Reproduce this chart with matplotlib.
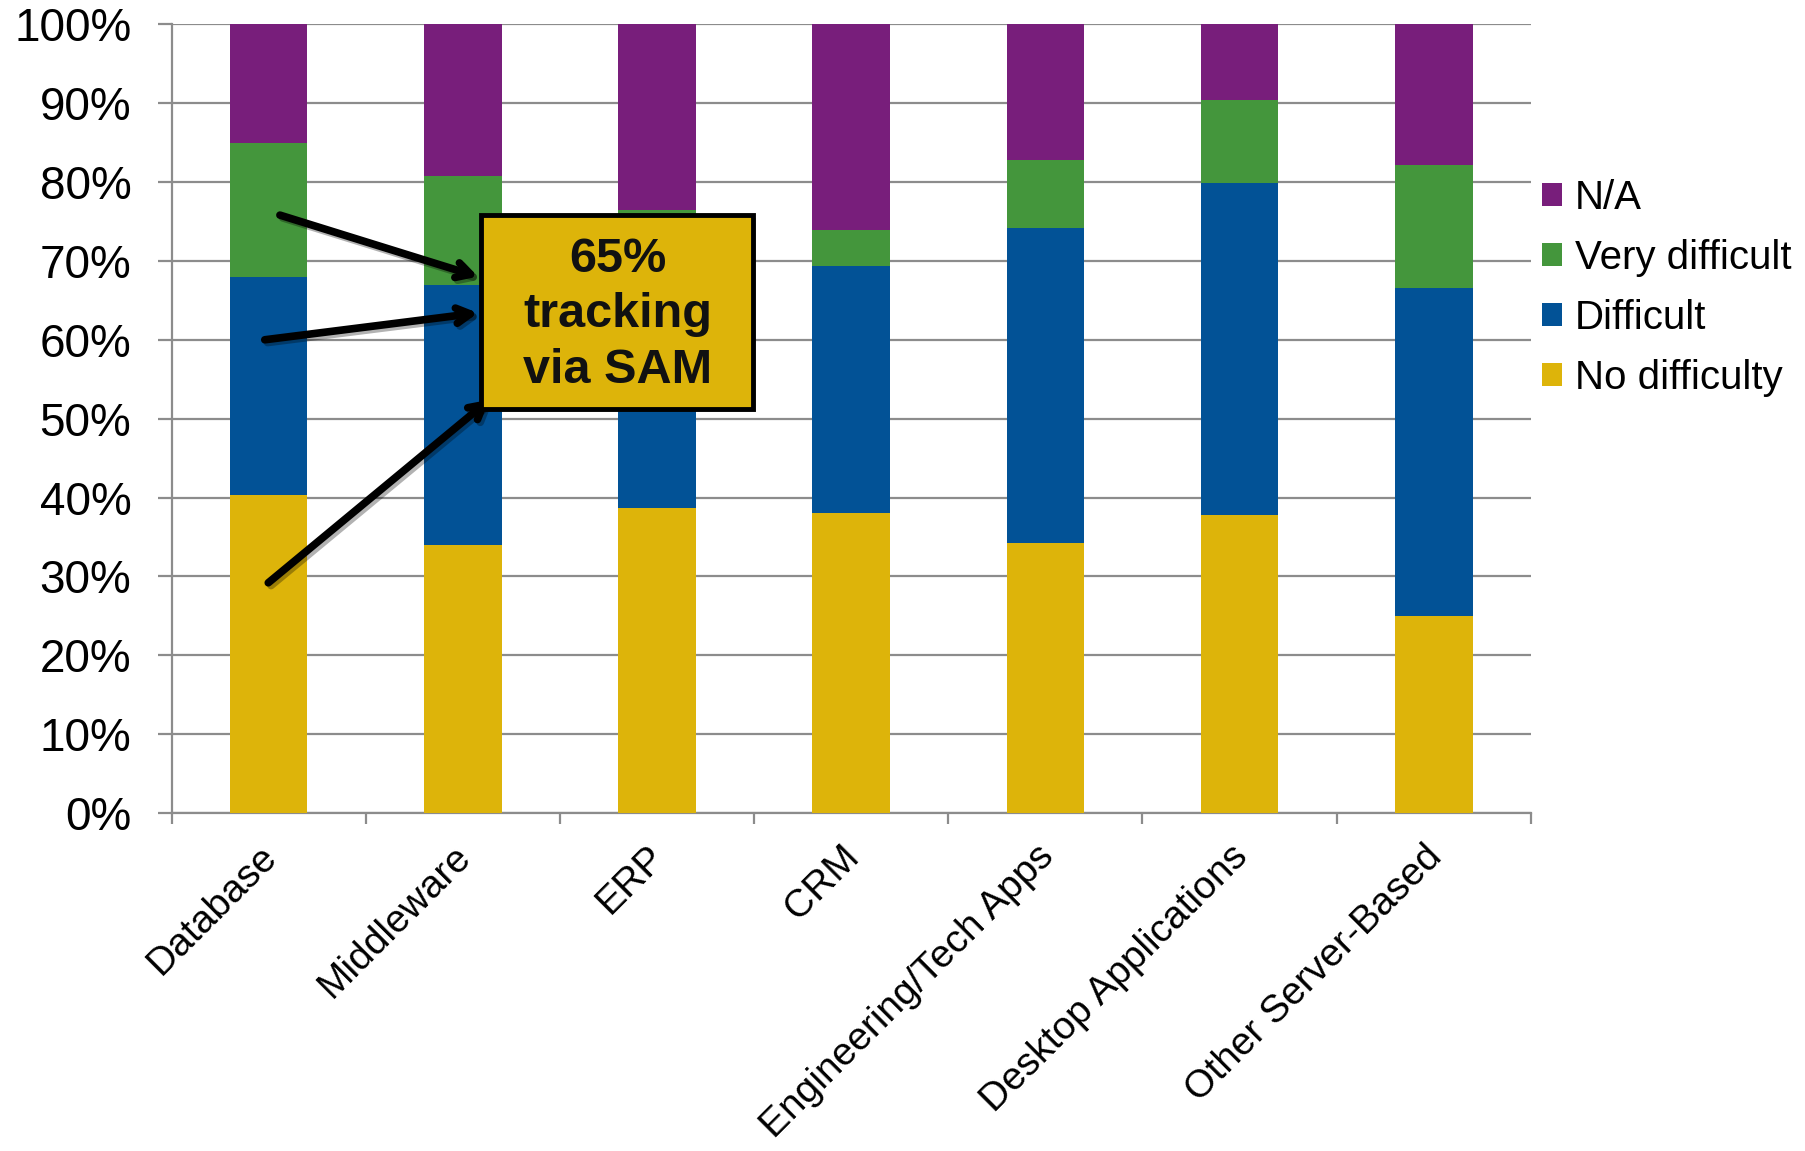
import matplotlib
matplotlib.use("Agg")
import matplotlib.pyplot as plt
from matplotlib.patches import Rectangle
from matplotlib.transforms import ScaledTranslation
import matplotlib.patheffects as pe
import numpy as np

plt.rcParams['font.family'] = ['Liberation Sans', 'DejaVu Sans']

# categories and stacked shares (percent)
categories = ['Database', 'Middleware', 'ERP', 'CRM', 'Engineering/Tech Apps',
              'Desktop Applications', 'Other Server-Based']
no_difficulty = [40.3, 34.0, 38.7, 38.0, 34.3, 37.8, 25.0]
difficult = [27.7, 32.9, 36.0, 31.3, 39.9, 42.1, 41.6]
very_difficult = [17.0, 13.8, 1.7, 4.6, 8.6, 10.5, 15.6]
not_applicable = [15.0, 19.3, 23.6, 26.1, 17.2, 9.6, 17.8]

series = [
    ('No difficulty', no_difficulty, '#DDB40A'),
    ('Difficult', difficult, '#025296'),
    ('Very difficult', very_difficult, '#44963C'),
    ('N/A', not_applicable, '#781E7B'),
]

callout_text = '65%\ntracking\nvia SAM'

grid_col = '#8C8C8C'

fig = plt.figure(figsize=(18.06, 11.51), dpi=100)
ax = fig.add_axes([0.095, 0.2935, 0.7526, 0.6855])

x = np.arange(len(categories))
bottom = np.zeros(len(categories))
handles = []
for name, vals, col in series:
    b = ax.bar(x, vals, 0.4, bottom=bottom, color=col, label=name, zorder=3)
    handles.append(b)
    bottom += np.array(vals)

ax.set_xlim(-0.5, len(categories) - 0.5)
ax.set_ylim(0, 100)

# y axis
ax.set_yticks(np.arange(0, 101, 10))
ax.set_yticklabels([f'{v}%' for v in range(0, 101, 10)], fontsize=33)
ax.yaxis.grid(True, color=grid_col, lw=1.6, zorder=0)
ax.tick_params(axis='y', length=10, width=1.6, color=grid_col, pad=19)

# x axis: tick marks between categories, labels under the bars
ax.set_xticks(x)
ax.set_xticks(np.arange(-0.5, len(categories), 1.0), minor=True)
ax.tick_params(axis='x', which='major', length=0, pad=0)
ax.tick_params(axis='x', which='minor', length=8, width=1.6, color=grid_col)
ax.set_xticklabels(categories, fontsize=28, rotation=45, ha='right', va='top',
                   rotation_mode='anchor')
offset = ScaledTranslation(-0.10, -0.25, fig.dpi_scale_trans)
for lab in ax.get_xticklabels():
    lab.set_transform(lab.get_transform() + offset)

for s in ['top', 'right']:
    ax.spines[s].set_visible(False)
for s in ['left', 'bottom']:
    ax.spines[s].set_color(grid_col)
    ax.spines[s].set_linewidth(1.6)

# legend, top entry first
leg = fig.legend(handles[::-1], [s[0] for s in series][::-1], loc='center left',
                 bbox_to_anchor=(0.854, 0.7500), frameon=False, fontsize=29,
                 handlelength=0.5, handleheight=0.5, handletextpad=0.3,
                 labelspacing=0.55, borderpad=0, borderaxespad=0)

# callout box with arrows
arrows = [((0.058, 75.8), (1.078, 68.0)),
          ((-0.02, 60.0), (1.078, 63.4)),
          ((-0.002, 29.2), (1.137, 52.4))]
for start, end in arrows:
    ax.annotate('', xy=end, xytext=start,
                arrowprops=dict(arrowstyle='->,head_length=1.0,head_width=0.55',
                                color='black', lw=5.5, shrinkA=0, shrinkB=0,
                                path_effects=[pe.SimpleLineShadow(offset=(2, -2), alpha=0.3),
                                              pe.Normal()]),
                zorder=6)

box = Rectangle((1.096, 51.2), 1.4, 24.6, facecolor='#DDB40A', edgecolor='black',
                lw=3.5, zorder=7)
box.set_path_effects([pe.SimplePatchShadow(offset=(2, -2), alpha=0.3), pe.Normal()])
ax.add_patch(box)
ax.text(1.796, 63.2, callout_text, ha='center', va='center', fontsize=35,
        fontweight='bold', color='#111111', linespacing=1.3, zorder=8)

fig.savefig('out.png', dpi=100)
